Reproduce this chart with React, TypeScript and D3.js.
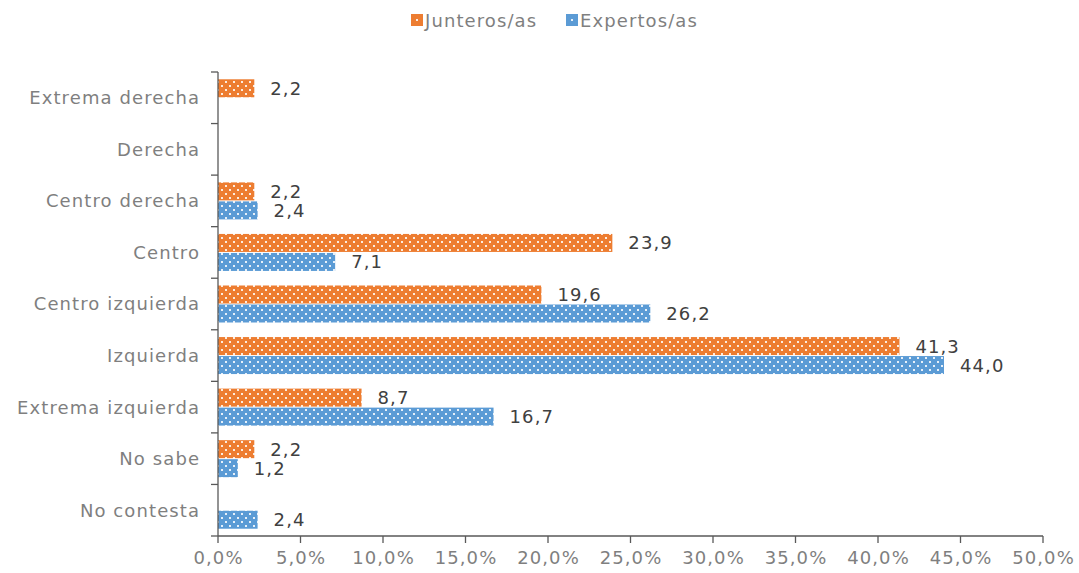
import React from "react";
import * as d3 from "d3";

const categories = [
  "Extrema derecha",
  "Derecha",
  "Centro derecha",
  "Centro",
  "Centro izquierda",
  "Izquierda",
  "Extrema izquierda",
  "No sabe",
  "No contesta",
];
const junteros: (number | null)[] = [2.2, null, 2.2, 23.9, 19.6, 41.3, 8.7, 2.2, null];
const expertos: (number | null)[] = [null, null, 2.4, 7.1, 26.2, 44.0, 16.7, 1.2, 2.4];
const xTicks = [0, 5, 10, 15, 20, 25, 30, 35, 40, 45, 50];
const seriesNames = ["Junteros/as", "Expertos/as"];
const colors = ["#ED7D31", "#5B9BD5"];

const W = 1079;
const H = 573;
const left = 218;
const right = 1043;
const top = 72;
const bottom = 536;
const font = "Verdana, 'DejaVu Sans', sans-serif";
const ls = 1.1;

export default function App() {
  const x = d3.scaleLinear().domain([0, 50]).range([left, right]);
  const band = (bottom - top) / categories.length;
  const barH = 18;
  const gap = 1;
  const fmt = (v: number) => v.toFixed(1).replace(".", ",");
  const series = [junteros, expertos];

  return (
    <svg width={W} height={H} style={{ position: "absolute", left: 0, top: 0 }} fontFamily={font} letterSpacing={ls}>
      <defs>
        {colors.map((c, i) => (
          <pattern key={i} id={`dots${i}`} width={8} height={8} patternUnits="userSpaceOnUse">
            <rect width={8} height={8} fill={c} />
            <rect x={1} y={1} width={2} height={2} fill="#fff" fillOpacity={0.85} />
            <rect x={5} y={5} width={2} height={2} fill="#fff" fillOpacity={0.85} />
          </pattern>
        ))}
        {colors.map((c, i) => (
          <pattern key={`l${i}`} id={`leg${i}`} width={12} height={12} patternUnits="userSpaceOnUse" x={i === 0 ? 411 : 566} y={14}>
            <rect width={12} height={12} fill={c} />
            <rect x={5} y={5} width={2} height={2} fill="#fff" fillOpacity={0.85} />
          </pattern>
        ))}
      </defs>
      {/* legend */}
      {seriesNames.map((n, i) => {
        const lx = i === 0 ? 411 : 566;
        return (
          <g key={n}>
            <rect x={lx} y={14} width={12} height={12} fill={`url(#leg${i})`} />
            <text x={lx + 14} y={27} fontSize={18} fill="#7f7f7f">{n}</text>
          </g>
        );
      })}
      {/* bars */}
      {categories.map((c, ci) => {
        const center = top + band * ci + band / 2;
        return series.map((s, si) => {
          const v = s[ci];
          if (v == null) return null;
          const by = si === 0 ? center - gap / 2 - barH : center + gap / 2;
          return (
            <g key={`${c}-${si}`}>
              <rect x={x(0)} y={by} width={x(v) - x(0)} height={barH} fill={`url(#dots${si})`} />
              <text x={x(v) + 16} y={by + barH / 2} dy="0.36em" fontSize={18} fill="#404040">{fmt(v)}</text>
            </g>
          );
        });
      })}
      {/* y axis */}
      <line x1={left} x2={left} y1={top} y2={bottom} stroke="#595959" strokeWidth={1.3} />
      {d3.range(categories.length + 1).map((i) => (
        <line key={i} x1={left - 7} x2={left} y1={top + band * i} y2={top + band * i} stroke="#595959" strokeWidth={1.3} />
      ))}
      {categories.map((c, ci) => (
        <text key={c} x={199 + ls} y={top + band * ci + band / 2} dy="0.36em" textAnchor="end" fontSize={18} fill="#7f7f7f">{c}</text>
      ))}
      {/* x axis */}
      <line x1={left} x2={right} y1={bottom} y2={bottom} stroke="#595959" strokeWidth={1.3} />
      {xTicks.map((t) => (
        <g key={t}>
          <line x1={x(t)} x2={x(t)} y1={bottom} y2={bottom + 7} stroke="#595959" strokeWidth={1.3} />
          <text x={x(t) + ls / 2} y={564} textAnchor="middle" fontSize={18} fill="#7f7f7f">{fmt(t)}%</text>
        </g>
      ))}
    </svg>
  );
}
